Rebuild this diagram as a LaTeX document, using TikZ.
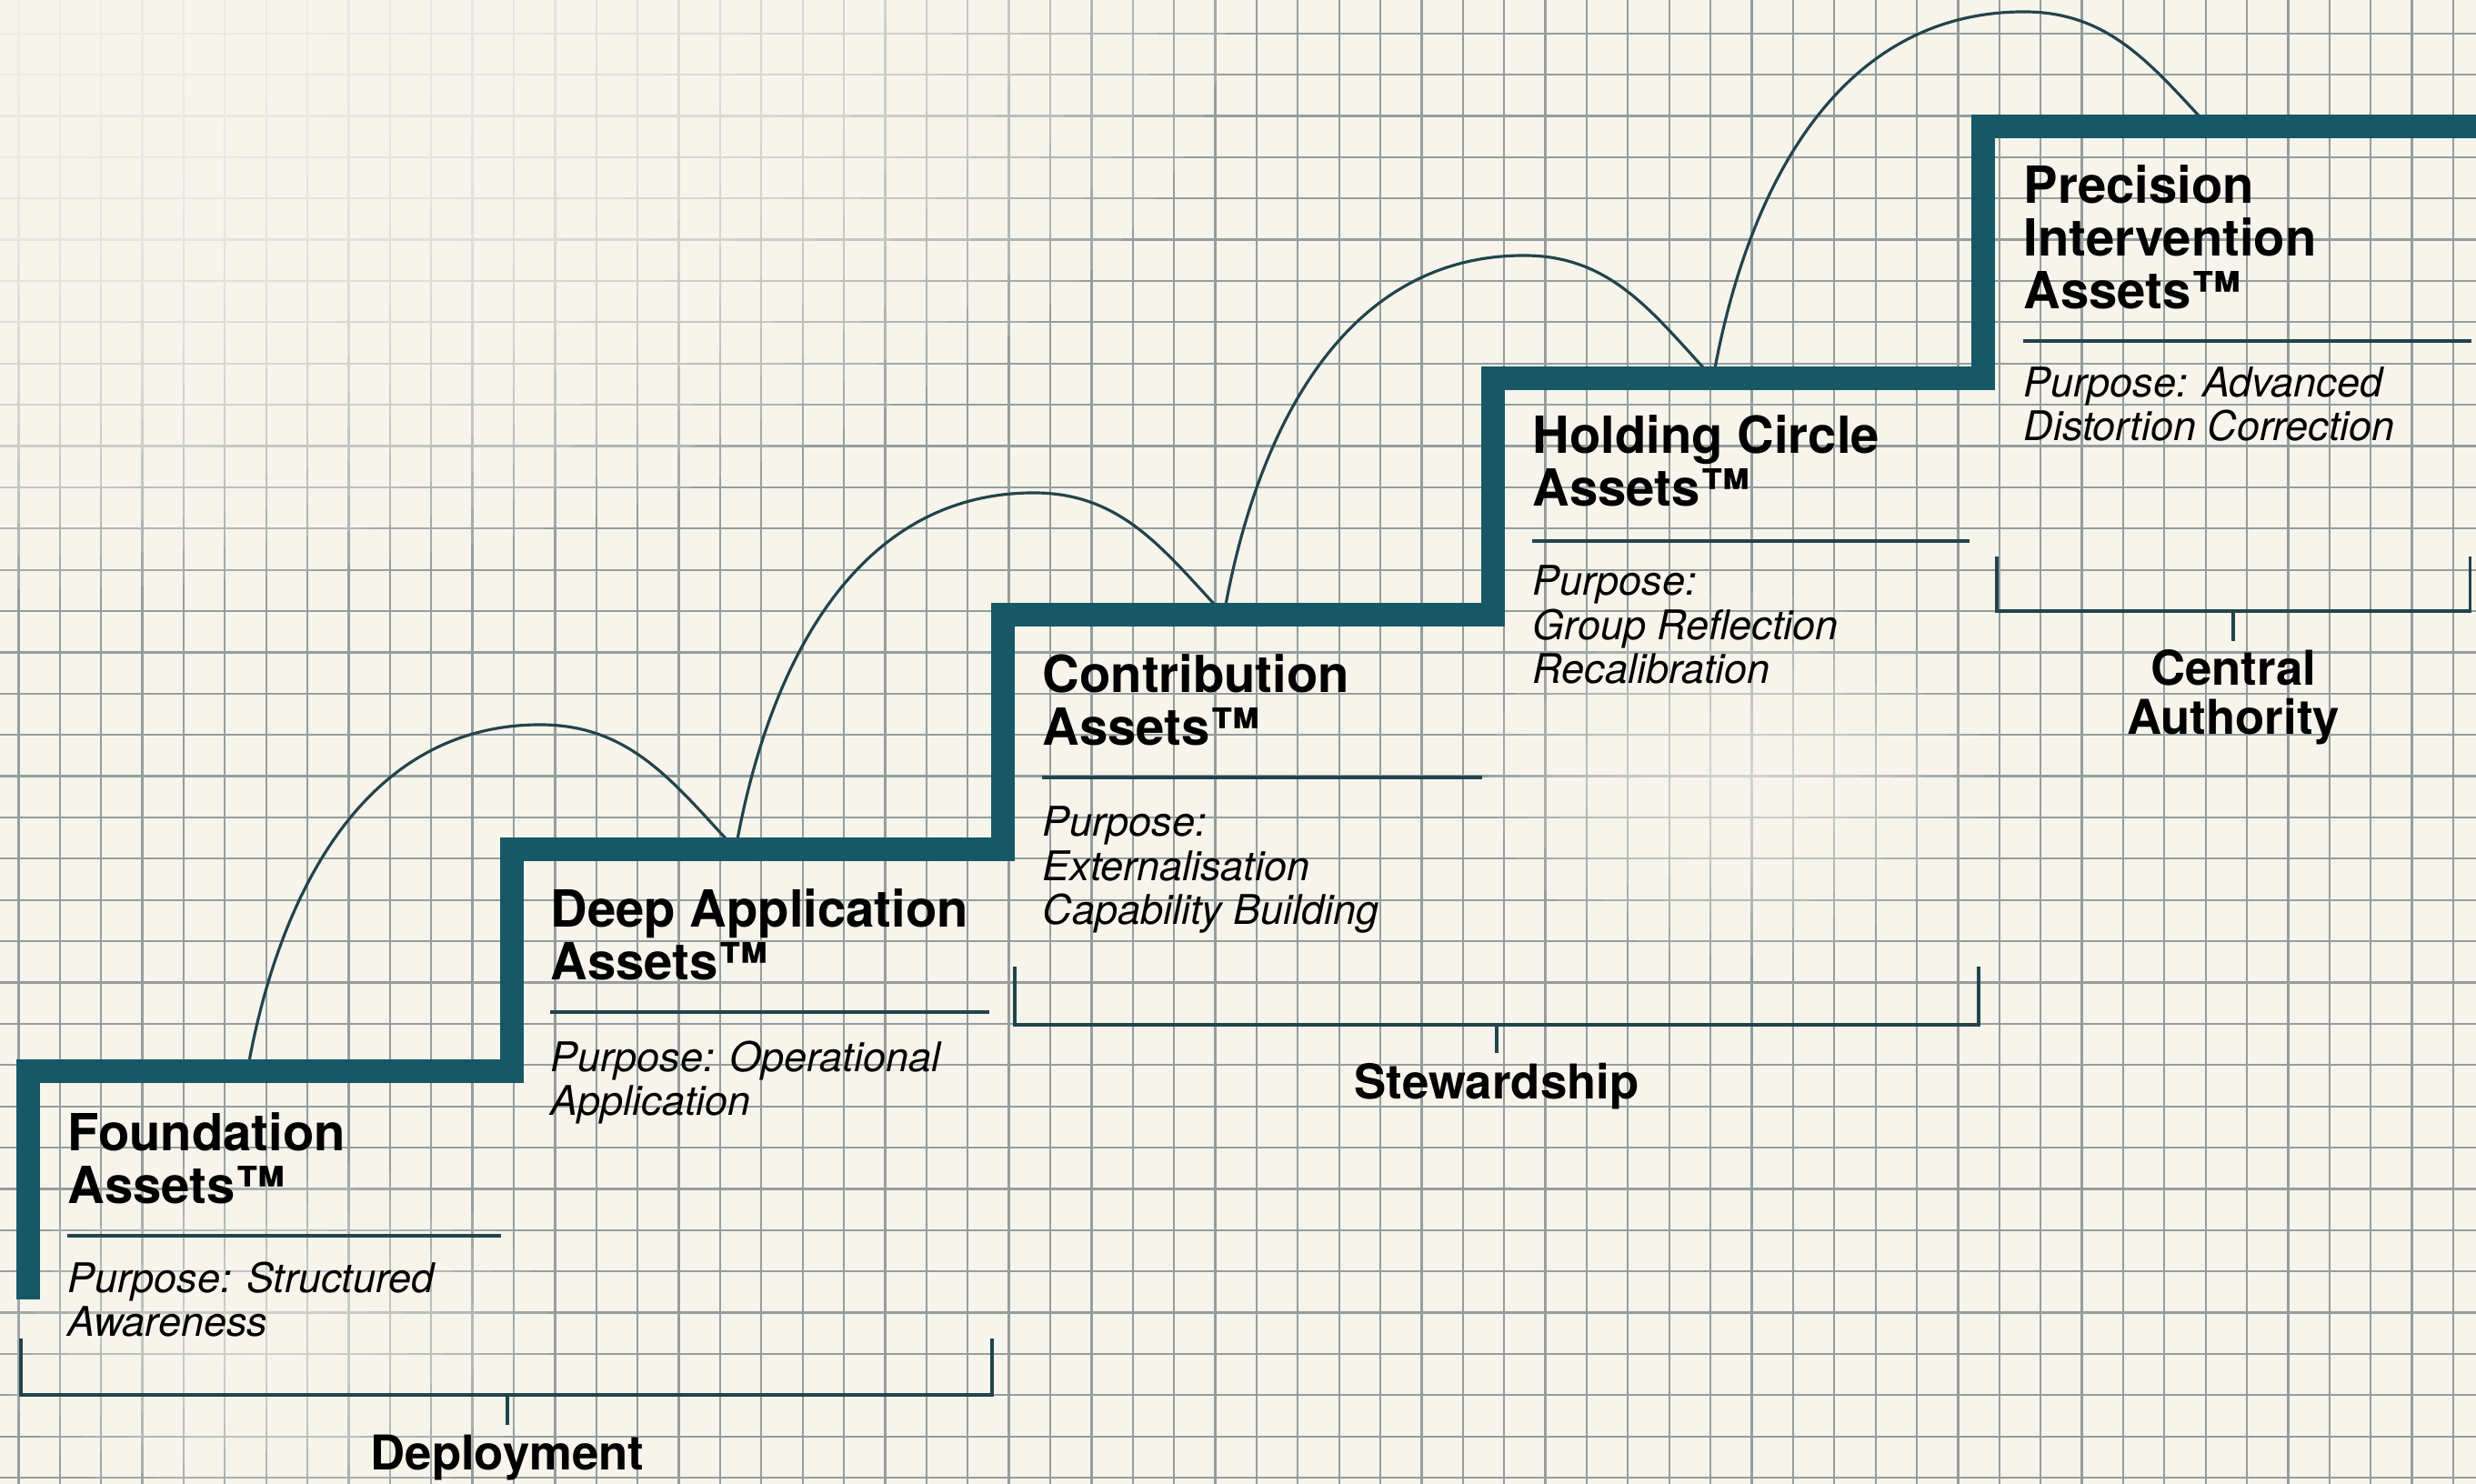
\documentclass[tikz,border=0pt]{standalone}
\usepackage{fontspec}
\setmainfont{TeX Gyre Heros}
\definecolor{paper}{RGB}{246,244,235}
\definecolor{stairteal}{RGB}{23,88,102}
\definecolor{inkteal}{RGB}{34,68,76}
\definecolor{gridgray}{RGB}{148,158,158}
\tikzset{
  stair/.style={stairteal, line width=0.26cm, line join=miter},
  hop/.style={inkteal, line width=0.9pt},
  rulebar/.style={inkteal, line width=1.1pt},
  bracket/.style={inkteal, line width=1.1pt},
  head/.style={anchor=base west, inner sep=0pt, align=left, font=\bfseries\fontsize{16}{16.5}\selectfont},
  purpose/.style={anchor=base west, inner sep=0pt, align=left, font=\itshape\fontsize{12.8}{13.8}\selectfont},
  tag/.style={anchor=base, inner sep=0pt, align=center, font=\bfseries\fontsize{15}{15.6}\selectfont},
}
\begin{document}
\begin{tikzpicture}
\fill[paper] (0,0) rectangle (27.23,16.32);
\useasboundingbox (0,0) rectangle (27.23,16.32);
% squared paper, faded towards the top left and under some texts
\begin{scope}
\clip (0,0) rectangle (27.23,16.32);
\draw[gridgray, line width=0.65pt, shift={(0.204,0.069)}, step=0.45383] (-1,-1) grid (28,17);
\foreach \r in {1,...,18}
  \fill[paper, opacity=0.16] (0,16.32) ellipse ({0.75*\r} and {0.36*\r});
\foreach \r in {1,...,8}
  \fill[paper, opacity=0.12] (19.1,7.8) ellipse ({0.34*\r} and {0.25*\r});
\foreach \r in {1,...,8}
  \fill[paper, opacity=0.12] (3.0,1.6) ellipse ({0.38*\r} and {0.25*\r});
\end{scope}

\coordinate (h0) at (2.72,4.54);
\coordinate (h1) at (8.09,6.98);
\coordinate (h2) at (13.46,9.56);
\coordinate (h3) at (18.84,12.16);
\coordinate (h4) at (24.29,14.93);
\coordinate (top1) at (5.94,8.35);
\coordinate (top2) at (11.37,10.90);
\coordinate (top3) at (16.76,13.51);
\coordinate (top4) at (22.26,16.19);
\draw[hop] (h0) to[out=80,in=180] (top1) to[out=0,in=133] (h1);
\draw[hop] (h1) to[out=80,in=180] (top2) to[out=0,in=133] (h2);
\draw[hop] (h2) to[out=80,in=180] (top3) to[out=0,in=133] (h3);
\draw[hop] (h3) to[out=80,in=180] (top4) to[out=0,in=133] (h4);

% the steps
\draw[stair] (0.31,2.03) -- (0.31,4.54) -- (5.63,4.54) -- (5.63,6.98) -- (11.03,6.98)
  -- (11.03,9.56) -- (16.42,9.56) -- (16.42,12.16) -- (21.81,12.16) -- (21.81,14.93) -- (27.4,14.93);

% node base = baseline of the last line
\node[head] (fnd) at (0.74,3.08) {Foundation\\Assets™};
\draw[rulebar] (0.74,2.73) -- (5.51,2.73);
\node[purpose] (fndp) at (0.74,1.62) {Purpose: Structured\\Awareness};

\node[head] (dep) at (6.05,5.54) {Deep Application\\Assets™};
\draw[rulebar] (6.05,5.19) -- (10.88,5.19);
\node[purpose] (depp) at (6.05,4.05) {Purpose: Operational\\Application};

\node[head] (con) at (11.46,8.12) {Contribution\\Assets™};
\draw[rulebar] (11.46,7.77) -- (16.30,7.77);
\node[purpose] (conp) at (11.46,6.15) {Purpose:\\Externalisation\\Capability Building};

\node[head] (hold) at (16.85,10.75) {Holding Circle\\Assets™};
\draw[rulebar] (16.85,10.37) -- (21.66,10.37);
\node[purpose] (holdp) at (16.85,8.80) {Purpose:\\Group Reflection\\Recalibration};

\node[head] (prec) at (22.25,12.92) {Precision\\Intervention\\Assets™};
\draw[rulebar] (22.25,12.57) -- (27.18,12.57);
\node[purpose] (precp) at (22.25,11.47) {Purpose: Advanced\\Distortion Correction};

% brackets
\draw[bracket] (0.23,1.60) -- (0.23,0.98) -- (10.91,0.98) -- (10.91,1.60);
\coordinate (brk1) at (5.58,0.98);
\draw[bracket] (brk1) -- ++(0,-0.33);
\node[tag] (deploy) at (5.58,0.15) {Deployment};

\draw[bracket] (11.16,5.69) -- (11.16,5.05) -- (21.76,5.05) -- (21.76,5.69);
\coordinate (brk2) at (16.46,5.05);
\draw[bracket] (brk2) -- ++(0,-0.31);
\node[tag] (stew) at (16.46,4.23) {Stewardship};

\draw[bracket] (21.96,10.20) -- (21.96,9.60) -- (27.165,9.60) -- (27.165,10.20);
\coordinate (brk3) at (24.56,9.60);
\draw[bracket] (brk3) -- ++(0,-0.33);
\node[tag] (auth) at (24.56,8.24) {Central\\Authority};
\end{tikzpicture}
\end{document}
